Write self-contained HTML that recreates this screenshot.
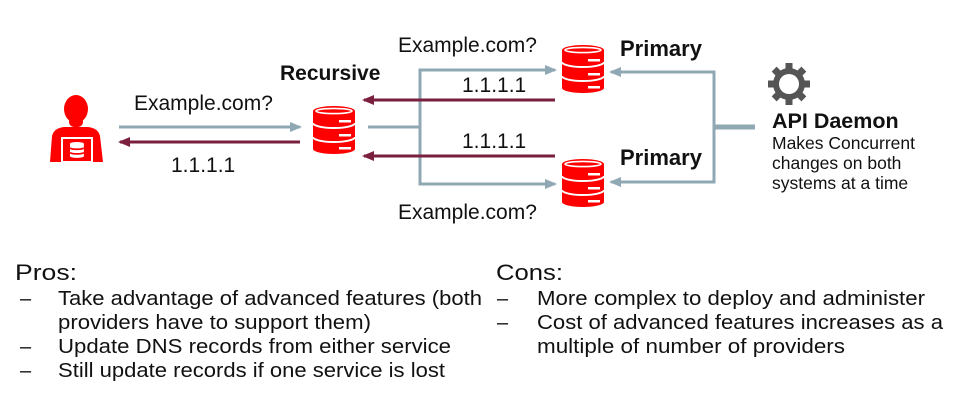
<!DOCTYPE html>
<html><head><meta charset="utf-8"><style>
body{margin:0;background:#fff}
svg{display:block;font-family:"Liberation Sans",Arial,sans-serif}
</style></head><body>
<svg width="975" height="403" viewBox="0 0 975 403" xmlns="http://www.w3.org/2000/svg">
<defs>
<g id="db">
  <path d="M0 5 A21 5 0 0 1 42 5 V43 A21 5 0 0 1 0 43 Z" fill="#f00"/>
  <ellipse cx="21" cy="5" rx="18" ry="2.6" fill="none" stroke="#fff" stroke-width="1.6"/>
  <path d="M0 17 A21 5 0 0 0 42 17" fill="none" stroke="#fff" stroke-width="2"/>
  <path d="M0 31 A21 5 0 0 0 42 31" fill="none" stroke="#fff" stroke-width="2"/>
  <rect x="26" y="14" width="12" height="2.5" fill="#fff"/>
  <rect x="26" y="28" width="12" height="2.5" fill="#fff"/>
  <rect x="26" y="41" width="12" height="2.5" fill="#fff"/>
</g>
<marker id="ag" markerWidth="12" markerHeight="10" refX="10" refY="5" orient="auto" markerUnits="userSpaceOnUse"><path d="M0 0 L12 5 L0 10 Z" fill="#8fa8b4"/></marker>
<marker id="am" markerWidth="12" markerHeight="10" refX="10" refY="5" orient="auto" markerUnits="userSpaceOnUse"><path d="M0 0 L12 5 L0 10 Z" fill="#7a1f3d"/></marker>
</defs>

<!-- person -->
<g fill="#f00">
  <ellipse cx="76" cy="109" rx="12" ry="14"/>
  <rect x="69" y="116" width="14" height="11" rx="5"/>
  <path d="M50 162 L52 136 Q54 128 64 127 L88 127 Q98 128 100 136 L103 162 Z"/>
</g>
<rect x="62" y="138" width="30" height="24" fill="#f00" stroke="#fff" stroke-width="2"/>
<g transform="translate(70,142) scale(0.33)"><path d="M0 5 A21 5 0 0 1 42 5 V43 A21 5 0 0 1 0 43 Z" fill="#fff"/><path d="M0 17 A21 5 0 0 0 42 17 M0 31 A21 5 0 0 0 42 31" fill="none" stroke="#f00" stroke-width="5"/></g>

<!-- DBs -->
<use href="#db" x="313" y="106"/>
<use href="#db" x="562" y="45"/>
<use href="#db" x="562" y="159"/>

<!-- arrows left -->
<line x1="119" y1="127" x2="300" y2="127" stroke="#8fa8b4" stroke-width="3" marker-end="url(#ag)"/>
<line x1="300" y1="142" x2="120" y2="142" stroke="#7a1f3d" stroke-width="3" marker-end="url(#am)"/>

<!-- recursive to primaries -->
<polyline points="368,127 420,127" fill="none" stroke="#8fa8b4" stroke-width="3"/>
<polyline points="545,70 420,70 420,184 545,184" fill="none" stroke="#8fa8b4" stroke-width="3"/>
<line x1="420" y1="70" x2="555" y2="70" stroke="#8fa8b4" stroke-width="3" marker-end="url(#ag)"/>
<line x1="420" y1="184" x2="555" y2="184" stroke="#8fa8b4" stroke-width="3" marker-end="url(#ag)"/>
<line x1="555" y1="100" x2="364" y2="100" stroke="#7a1f3d" stroke-width="3" marker-end="url(#am)"/>
<line x1="555" y1="156" x2="364" y2="156" stroke="#7a1f3d" stroke-width="3" marker-end="url(#am)"/>

<!-- daemon to primaries -->
<line x1="714" y1="127" x2="755" y2="127" stroke="#8fa8b4" stroke-width="5"/>
<polyline points="620,72 714,72 714,182 620,182" fill="none" stroke="#8fa8b4" stroke-width="3"/>
<line x1="714" y1="72" x2="611" y2="72" stroke="#8fa8b4" stroke-width="3" marker-end="url(#ag)"/>
<line x1="714" y1="182" x2="611" y2="182" stroke="#8fa8b4" stroke-width="3" marker-end="url(#ag)"/>

<!-- gear -->
<g transform="translate(789,84)" fill="#555">
  <g id="teeth">
    <rect x="-3.5" y="-21" width="7" height="10"/>
  </g>
  <use href="#teeth" transform="rotate(45)"/><use href="#teeth" transform="rotate(90)"/><use href="#teeth" transform="rotate(135)"/>
  <use href="#teeth" transform="rotate(180)"/><use href="#teeth" transform="rotate(225)"/><use href="#teeth" transform="rotate(270)"/><use href="#teeth" transform="rotate(315)"/>
  <circle r="16"/>
  <circle r="10" fill="#fff"/>
</g>

<!-- diagram text -->
<g font-size="21" fill="#111">
  <text x="134" y="110">Example.com?</text>
  <text x="171" y="172">1.1.1.1</text>
  <text x="398" y="52">Example.com?</text>
  <text x="398" y="219">Example.com?</text>
  <text x="462" y="92">1.1.1.1</text>
  <text x="462" y="148">1.1.1.1</text>
</g>
<g font-weight="bold" fill="#111">
  <text x="280" y="80" font-size="21">Recursive</text>
  <text x="620" y="56" font-size="22">Primary</text>
  <text x="620" y="165" font-size="22">Primary</text>
  <text x="772" y="128" font-size="21.5">API Daemon</text>
</g>
<g font-size="17.5" fill="#111">
  <text x="772" y="149">Makes Concurrent</text>
  <text x="772" y="169">changes on both</text>
  <text x="772" y="189">systems at a time</text>
</g>

<!-- pros / cons -->
<g font-size="22" fill="#111">
  <text x="15" y="280" textLength="62" lengthAdjust="spacingAndGlyphs">Pros:</text>
  <text x="496" y="280" textLength="67" lengthAdjust="spacingAndGlyphs">Cons:</text>
</g>
<g font-size="20" fill="#111">
  <text x="20" y="305">–</text>
  <text x="58" y="305" textLength="424" lengthAdjust="spacingAndGlyphs">Take advantage of advanced features (both</text>
  <text x="58" y="329" textLength="313" lengthAdjust="spacingAndGlyphs">providers have to support them)</text>
  <text x="20" y="353">–</text>
  <text x="58" y="353" textLength="393" lengthAdjust="spacingAndGlyphs">Update DNS records from either service</text>
  <text x="20" y="377">–</text>
  <text x="58" y="377" textLength="387" lengthAdjust="spacingAndGlyphs">Still update records if one service is lost</text>
  <text x="497" y="305">–</text>
  <text x="537" y="305" textLength="388" lengthAdjust="spacingAndGlyphs">More complex to deploy and administer</text>
  <text x="497" y="329">–</text>
  <text x="537" y="329" textLength="406" lengthAdjust="spacingAndGlyphs">Cost of advanced features increases as a</text>
  <text x="537" y="353" textLength="308" lengthAdjust="spacingAndGlyphs">multiple of number of providers</text>
</g>
</svg>
</body></html>
